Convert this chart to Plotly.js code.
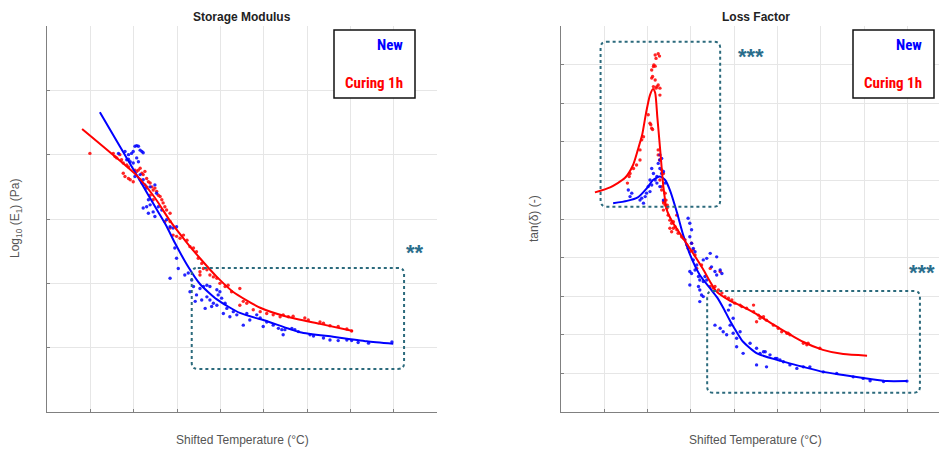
<!DOCTYPE html>
<html><head><meta charset="utf-8">
<script src="https://cdn.plot.ly/plotly-3.0.1.min.js"></script>
<style>html,body{margin:0;padding:0;overflow:hidden;background:#fff}#chart{width:960px;height:450px}</style>
</head><body><div id="chart"></div>
<script>
// ---------- Storage Modulus (left) ----------
// Fitted curves
const smNewFitT = [-27.8,-23.2,-18.5,-14.6,-12.5,-10.5,-7.7,-4.7,-0.8,4.5,10.8,18.4,26.0,33.8,39.9];
const smNewFitE = [9.66,9.13,8.59,8.14,7.90,7.63,7.29,6.99,6.75,6.54,6.41,6.24,6.17,6.10,6.06];
const smCurFitT = [-31.9,-24.8,-19.2,-15.1,-11.6,-7.7,-4.7,-0.8,2.9,9.2,15.4,23.0,30.6];
const smCurFitE = [9.40,9.00,8.67,8.33,7.97,7.63,7.39,7.10,6.87,6.62,6.48,6.37,6.26];
// Measured points
const smNewT = [-23.5,-22.0,-21.2,-20.5,-19.7,-19.3,-18.9,-18.5,-18.1,-17.8,-20.1,-21.2,-20.8,-20.1,-18.9,-19.3,-21.6,-19.7,-18.5,-17.8,-17.4,-17.0,-16.2,-15.1,-14.7,-16.6,-17.8,-17.0,-16.2,-16.6,-15.5,-15.1,-14.3,-13.5,-12.4,-11.6,-10.9,-10.1,-10.5,-10.1,-9.7,-11.6,-8.2,-7.4,-6.6,-6.2,-7.0,-5.5,-4.7,-3.9,-3.1,-2.4,-5.8,-4.3,-3.1,-2.4,-1.6,-0.5,0.3,-2.0,-0.8,-3.5,0.7,2.2,3.8,5.3,6.8,8.4,9.2,9.9,10.7,12.2,13.4,14.2,-0.8,-0.1,1.1,1.5,3.0,6.1,14.9,14.5,16.5,17.2,18.0,20.7,21.5,23.8,25.3,27.2,29.2,30.3,31.8,34.2,39.6];
const smNewE = [9.02,9.05,9.00,9.02,9.13,9.14,9.13,9.07,9.05,9.03,9.05,8.93,8.89,8.87,8.89,8.95,8.92,8.66,8.69,8.61,8.53,8.48,8.50,8.53,8.40,8.30,8.17,8.19,8.22,8.09,8.11,8.04,8.19,8.14,7.99,7.88,7.86,7.88,7.55,7.39,7.23,7.08,7.13,7.16,7.05,6.95,6.87,6.82,6.92,6.95,6.97,6.95,6.72,6.74,6.79,6.74,6.69,6.82,6.77,6.64,6.66,6.61,6.53,6.48,6.51,6.35,6.43,6.51,6.46,6.33,6.40,6.35,6.30,6.28,6.90,6.87,6.69,6.61,6.56,6.53,6.28,6.20,6.30,6.28,6.25,6.20,6.18,6.15,6.12,6.11,6.12,6.11,6.08,6.07,6.09];
const smCurT = [-30.1,-24.7,-24.3,-23.9,-23.2,-22.8,-22.4,-21.6,-21.2,-22.4,-22.0,-21.2,-20.8,-20.1,-19.7,-19.3,-18.9,-18.5,-18.1,-17.8,-17.4,-17.0,-16.6,-16.2,-15.8,-15.5,-15.1,-14.7,-14.3,-13.9,-13.5,-13.2,-12.8,-12.4,-11.6,-11.6,-18.1,-17.0,-18.5,-16.2,-15.5,-12.8,-11.6,-10.9,-10.1,-9.3,-8.5,-7.7,-7.0,-6.2,-5.5,-5.1,-4.3,-3.9,-3.1,-4.7,-2.4,-1.6,-0.8,-0.1,1.1,1.8,2.6,4.5,5.3,4.5,6.1,7.6,9.2,10.7,12.2,13.8,-4.7,14.5,15.7,16.8,19.5,20.3,23.0,23.8,25.3,27.2,29.2,30.3];
const smCurE = [9.02,9.02,8.97,8.95,9.00,8.92,8.87,8.84,8.81,8.71,8.66,8.63,8.61,8.58,8.76,8.74,8.76,8.79,8.71,8.69,8.74,8.63,8.58,8.56,8.50,8.45,8.48,8.43,8.37,8.35,8.30,8.25,8.19,8.14,8.09,7.96,8.56,8.50,8.61,8.37,8.30,7.96,7.86,7.75,7.73,7.70,7.75,7.67,7.57,7.55,7.49,7.39,7.31,7.23,7.21,7.13,7.13,7.10,7.08,7.00,6.95,6.97,6.87,6.92,6.72,6.66,6.69,6.59,6.56,6.53,6.51,6.48,7.18,6.51,6.48,6.49,6.46,6.43,6.40,6.38,6.34,6.33,6.29,6.26];

// ---------- Loss Factor (right) ----------
const lfNewFitT = [-27.9,-24.7,-22.2,-20.1,-18.7,-17.1,-15.9,-14.8,-13.2,-11.8,-10.2,-7.9,-5.5,-3.9,-2.5,-0.9,2.1,5.3,9.9,15.9,20.5,25.2,31.4,35.3,39.9];
const lfNewFitD = [0.541,0.547,0.556,0.580,0.601,0.610,0.601,0.575,0.518,0.461,0.409,0.355,0.320,0.297,0.270,0.236,0.182,0.152,0.135,0.117,0.104,0.096,0.0855,0.080,0.080];
const lfCurFitT = [-32.1,-28.6,-25.2,-23.3,-22.2,-21.2,-20.3,-19.4,-18.7,-18.2,-17.7,-17.1,-16.3,-15.5,-14.1,-11.8,-9.5,-7.2,-5.5,-4.2,-2.8,-0.9,1.4,5.1,9.9,15.9,20.5,25.2,30.7];
const lfCurFitD = [0.569,0.582,0.606,0.640,0.679,0.718,0.775,0.821,0.837,0.827,0.764,0.687,0.583,0.523,0.490,0.451,0.412,0.371,0.337,0.314,0.301,0.288,0.276,0.254,0.221,0.182,0.161,0.150,0.146];
const lfNewT = [-17.1,-16.7,-17.5,-17.1,-16.7,-16.3,-19.0,-18.6,-17.8,-19.4,-19.8,-20.2,-20.5,-21.3,-21.7,-24.4,-23.6,-24.0,-20.9,-17.8,-17.1,-15.9,-18.2,-19.0,-19.4,-16.3,-17.1,
  -10.6,-10.2,-9.8,-10.2,-9.8,-9.4,-9.0,-7.1,-6.3,-5.5,-4.0,-9.4,-10.2,-9.8,-9.0,-8.2,-7.9,-7.1,-6.3,-5.2,-4.4,-3.2,-2.8,-4.0,-10.2,-8.2,-7.9,-7.5,-7.1,-7.9,-0.9,-1.3,-0.2,-6.7,-8.6,
  -4.4,-3.2,-2.5,-1.7,-0.9,-0.2,0.6,1.4,0.6,2.1,3.7,5.2,6.0,7.2,8.3,5.2,7.5,9.5,9.9,11.4,12.9,14.5,16.0,17.5,20.6,23.7,27.5,29.8,31.4,34.5,39.9,10.6,6.8];
const lfNewD = [0.666,0.657,0.644,0.631,0.618,0.623,0.631,0.618,0.610,0.601,0.584,0.567,0.558,0.554,0.549,0.575,0.567,0.558,0.541,0.593,0.584,0.593,0.601,0.588,0.571,0.549,0.653,
  0.502,0.489,0.472,0.454,0.437,0.424,0.415,0.394,0.398,0.411,0.402,0.394,0.364,0.359,0.368,0.351,0.342,0.338,0.342,0.376,0.364,0.368,0.359,0.355,0.329,0.325,0.316,0.303,0.299,0.286,0.277,0.264,0.243,0.351,0.381,
  0.225,0.217,0.208,0.200,0.225,0.204,0.191,0.208,0.169,0.152,0.178,0.165,0.152,0.156,0.148,0.122,0.117,0.139,0.139,0.130,0.122,0.113,0.117,0.117,0.104,0.100,0.091,0.087,0.081,0.079,0.080,0.135,0.156];
const lfCurT = [-18.2,-17.5,-17.2,-18.0,-18.5,-18.6,-18.2,-19.0,-18.8,-19.0,-18.2,-18.6,-17.8,-17.5,-18.0,-17.1,-17.1,-19.2,-19.0,-18.8,-19.4,-19.8,-20.9,-21.3,-21.7,-21.7,-22.5,-23.2,-24.0,-24.2,-24.6,-17.5,-17.5,-17.2,-16.7,-16.3,-17.1,-16.7,-15.9,-15.7,-16.2,-15.4,-16.3,
  -16.7,-16.3,-15.9,-15.5,-15.2,-14.8,-14.4,-14.0,-13.6,-13.2,-14.8,-14.4,-14.0,-12.9,-12.1,-11.7,-11.3,-10.9,-10.6,-10.2,-9.8,-9.4,-9.0,-13.2,-8.6,-7.5,-5.5,-3.2,-4.8,-4.4,-5.5,-3.6,-2.8,-2.1,-1.3,-0.5,0.2,1.4,1.8,2.9,4.5,4.5,5.2,5.6,6.0,6.8,7.5,9.1,10.2,12.2,12.9,16.0,16.8,19.8,11.0,17.1,12.5];
const lfCurD = [0.925,0.928,0.922,0.916,0.899,0.895,0.896,0.886,0.869,0.865,0.860,0.843,0.843,0.847,0.839,0.839,0.821,0.744,0.735,0.732,0.748,0.770,0.713,0.705,0.679,0.653,0.640,0.631,0.618,0.610,0.593,0.679,0.666,0.653,0.627,0.618,0.601,0.584,0.567,0.549,0.541,0.536,0.523,
  0.575,0.545,0.536,0.528,0.510,0.497,0.489,0.493,0.480,0.472,0.476,0.467,0.476,0.463,0.454,0.450,0.446,0.433,0.424,0.415,0.437,0.420,0.407,0.510,0.372,0.381,0.372,0.364,0.321,0.325,0.325,0.316,0.308,0.299,0.295,0.290,0.282,0.277,0.273,0.269,0.277,0.260,0.234,0.251,0.243,0.247,0.238,0.225,0.217,0.204,0.200,0.178,0.174,0.165,0.208,0.178,0.204];

// ---------- Labels ----------
const seriesNames = ['New','Curing 1h'];
const seriesColors = ['#0000ff','#ff0000'];
const panelTitles = ['Storage Modulus','Loss Factor'];
const xTitle = 'Shifted Temperature (°C)';
const yTitles = ['Log<sub>10</sub> (E<sub>1</sub>) (Pa)','tan(δ) (-)'];
const stars = ['**','***','***'];

const W = 960, H = 450;
const px = v => v / W, py = v => (H - v) / H;

function pts(x, y, c, xa, ya) {
  return {x, y, xaxis: xa, yaxis: ya, type: 'scatter', mode: 'markers',
    marker: {color: c, size: 3.4, opacity: 0.85}, hoverinfo: 'skip'};
}
function fit(x, y, c, xa, ya) {
  return {x, y, xaxis: xa, yaxis: ya, type: 'scatter', mode: 'lines',
    line: {color: c, width: 2, shape: 'spline', smoothing: 0.6}, hoverinfo: 'skip'};
}
const traces = [
  pts(smCurT, smCurE, seriesColors[1], 'x', 'y'),
  pts(smNewT, smNewE, seriesColors[0], 'x', 'y'),
  fit(smNewFitT, smNewFitE, seriesColors[0], 'x', 'y'),
  fit(smCurFitT, smCurFitE, seriesColors[1], 'x', 'y'),
  pts(lfCurT, lfCurD, seriesColors[1], 'x2', 'y2'),
  pts(lfNewT, lfNewD, seriesColors[0], 'x2', 'y2'),
  fit(lfNewFitT, lfNewFitD, seriesColors[0], 'x2', 'y2'),
  fit(lfCurFitT, lfCurFitD, seriesColors[1], 'x2', 'y2')
];

const axBase = {showticklabels: false, showgrid: true, gridcolor: '#e6e6e6', gridwidth: 1,
  zeroline: false, showline: true, linecolor: '#808080', linewidth: 1,
  ticks: 'inside', ticklen: 3, tickcolor: '#808080', fixedrange: true};
const yDom = [py(412), py(26)];

function rr(x0, x1, y0, y1, rx, ry) {
  return `M ${x0+rx} ${y1} L ${x1-rx} ${y1} Q ${x1} ${y1} ${x1} ${y1-ry} L ${x1} ${y0+ry} Q ${x1} ${y0} ${x1-rx} ${y0} ` +
         `L ${x0+rx} ${y0} Q ${x0} ${y0} ${x0} ${y0+ry} L ${x0} ${y1-ry} Q ${x0} ${y1} ${x0+rx} ${y1} Z`;
}
const boxColor = '#2b6a7c';
const dotLine = {color: boxColor, width: 2, dash: 'dot'};
const shapes = [
  {type: 'path', xref: 'x', yref: 'y', path: rr(-6.6, 42.4, 5.67, 7.24, 1.4, 0.09), line: dotLine, layer: 'above'},
  {type: 'path', xref: 'x2', yref: 'y2', path: rr(-30.8, -3.2, 0.532, 0.959, 1.4, 0.016), line: dotLine, layer: 'above'},
  {type: 'path', xref: 'x2', yref: 'y2', path: rr(-6.2, 42.9, 0.050, 0.3135, 1.4, 0.016), line: dotLine, layer: 'above'},
  {type: 'rect', xref: 'paper', yref: 'paper', x0: px(334), x1: px(415), y0: py(98), y1: py(30),
    line: {color: '#111', width: 1.5}, fillcolor: '#fff', layer: 'above'},
  {type: 'rect', xref: 'paper', yref: 'paper', x0: px(853), x1: px(934), y0: py(98), y1: py(30),
    line: {color: '#111', width: 1.5}, fillcolor: '#fff', layer: 'above'}
];

const legFont = (c) => ({family: 'Liberation Sans Narrow, Roboto Condensed, DejaVu Sans Condensed, sans-serif', size: 15, color: c, weight: 700});
const titleFont = {family: 'Liberation Sans, Arial, sans-serif', size: 12, color: '#222'};
const labFont = {family: 'Liberation Sans, Arial, sans-serif', size: 12, color: '#555'};
const starFont = {family: 'Liberation Sans, Arial, sans-serif', size: 22, color: '#2a6d8c', weight: 700};
const ann = (x, y, text, font, extra) => Object.assign({xref: 'paper', yref: 'paper', x: px(x), y: py(y), text, font, showarrow: false, xanchor: 'center', yanchor: 'middle'}, extra || {});
const annotations = [
  ann(242, 17, '<b>' + panelTitles[0] + '</b>', titleFont),
  ann(755.7, 17, '<b>' + panelTitles[1] + '</b>', titleFont),
  ann(242, 440, xTitle, labFont),
  ann(755.7, 440, xTitle, labFont),
  ann(16, 219, yTitles[0], labFont, {textangle: -90}),
  ann(534, 219, yTitles[1], labFont, {textangle: -90}),
  ann(405, 45, '<b>' + seriesNames[0] + '</b>', legFont(seriesColors[0]), {xanchor: 'right'}),
  ann(405, 83, '<b>' + seriesNames[1] + '</b>', legFont(seriesColors[1]), {xanchor: 'right'}),
  ann(924, 45, '<b>' + seriesNames[0] + '</b>', legFont(seriesColors[0]), {xanchor: 'right'}),
  ann(924, 83, '<b>' + seriesNames[1] + '</b>', legFont(seriesColors[1]), {xanchor: 'right'}),
  ann(415, 252, '<b>' + stars[0] + '</b>', starFont),
  ann(751, 56, '<b>' + stars[1] + '</b>', starFont),
  ann(922, 272, '<b>' + stars[2] + '</b>', starFont)
];

const layout = {
  width: W, height: H, margin: {l: 0, r: 0, t: 0, b: 0}, showlegend: false,
  paper_bgcolor: '#fff', plot_bgcolor: '#fff',
  xaxis: Object.assign({}, axBase, {domain: [px(47), px(437)], range: [-40, 50], tick0: -40, dtick: 10, anchor: 'y'}),
  yaxis: Object.assign({}, axBase, {domain: yDom, range: [5, 11], tick0: 5, dtick: 1, anchor: 'x'}),
  xaxis2: Object.assign({}, axBase, {domain: [px(560.7), px(950.7)], range: [-40, 50], tick0: -40, dtick: 10, anchor: 'y2'}),
  yaxis2: Object.assign({}, axBase, {domain: yDom, range: [0, 1], tick0: 0, dtick: 0.1, anchor: 'x2'}),
  shapes, annotations
};
Plotly.newPlot('chart', traces, layout, {staticPlot: true, displayModeBar: false});
</script></body></html>
